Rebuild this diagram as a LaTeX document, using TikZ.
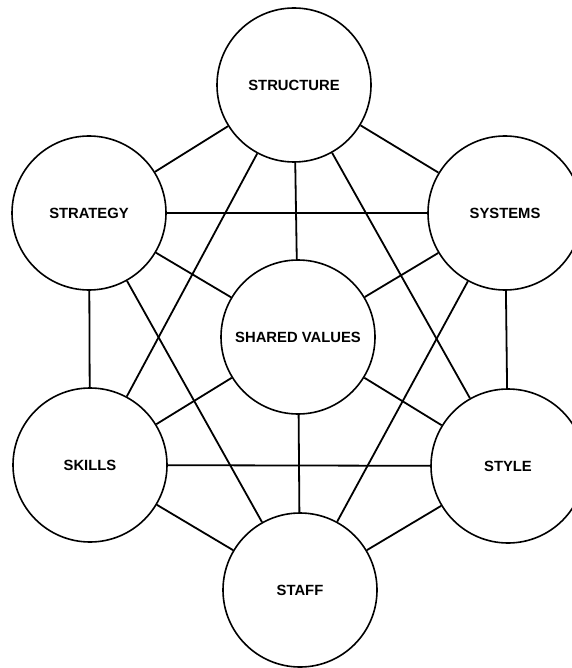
\documentclass[tikz,border=0pt]{standalone}
\usepackage{fontspec}
\setmainfont{Liberation Sans}
\begin{document}
\begin{tikzpicture}[x=1pt,y=-1pt,
  sbox/.style={circle,draw,line width=1.6pt,minimum size=154pt,inner sep=0pt,font=\bfseries\fontsize{14.8}{15}\selectfont},
  link/.style={line width=1.8pt}]
\useasboundingbox (0,0) rectangle (571,668);
\node[sbox] (structure) at (294,85) {STRUCTURE};
\node[sbox] (strategy) at (89,213) {STRATEGY};
\node[sbox] (systems) at (505,213) {SYSTEMS};
\node[sbox] (shared) at (298,337) {SHARED VALUES};
\node[sbox] (skills) at (90,465) {SKILLS};
\node[sbox] (style) at (508,466) {STYLE};
\node[sbox] (staff) at (300,590) {STAFF};
\foreach \a/\b in {structure/strategy,structure/systems,structure/shared,structure/skills,structure/style,
  strategy/systems,strategy/shared,strategy/skills,strategy/staff,
  systems/shared,systems/style,systems/staff,
  shared/skills,shared/style,shared/staff,
  skills/style,skills/staff,style/staff}
  \draw[link] (\a) -- (\b);
\end{tikzpicture}
\end{document}
